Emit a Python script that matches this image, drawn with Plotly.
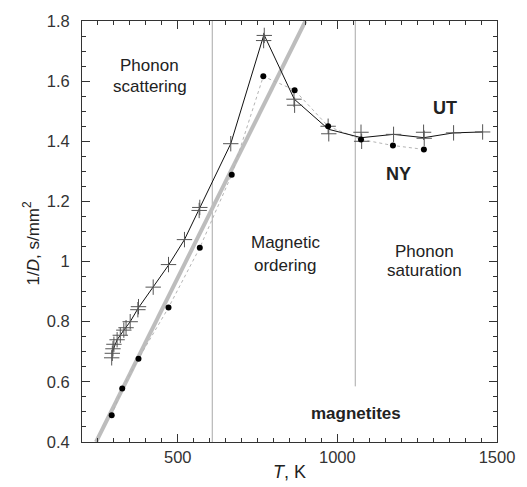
import plotly.graph_objects as go

# ---- data ----
ut_T = [293, 295, 297, 300, 310, 320, 331, 338, 351, 375, 377, 423, 471, 521, 567, 569,
        666, 769, 771, 864, 866, 971, 973, 1074, 1076, 1176, 1270, 1272, 1364, 1455]
ut_y = [0.68, 0.695, 0.71, 0.725, 0.74, 0.755, 0.772, 0.78, 0.80, 0.84, 0.85, 0.915, 0.99,
        1.073, 1.17, 1.18, 1.392, 1.735, 1.752, 1.54, 1.52, 1.45, 1.425, 1.43, 1.40,
        1.423, 1.43, 1.41, 1.428, 1.431]

ut_line_T = [295, 310, 331, 351, 376, 423, 471, 521, 568, 666, 770, 865, 972, 1075,
             1176, 1271, 1364, 1455]
ut_line_y = [0.70, 0.74, 0.772, 0.80, 0.845, 0.915, 0.988, 1.073, 1.175, 1.392, 1.755,
             1.54, 1.44, 1.412, 1.423, 1.412, 1.428, 1.431]

ny_T = [293, 326, 377, 471, 569, 669, 768, 866, 971, 1074, 1174, 1271]
ny_y = [0.489, 0.578, 0.677, 0.847, 1.046, 1.289, 1.616, 1.57, 1.45, 1.406, 1.386, 1.373]

fit_T = [244, 900]
fit_y = [0.4, 1.8]

boundary_T = [608, 1056]
boundary_bottom = [0.4, 0.585]
boundary_top = [1.8, 1.8]

y_ticks = [0.4, 0.6, 0.8, 1.0, 1.2, 1.4, 1.6, 1.8]
y_ticktext = ["0.4", "0.6", "0.8", "1", "1.2", "1.4", "1.6", "1.8"]
x_ticks = [500, 1000, 1500]

region_labels = ["Phonon", "scattering", "Magnetic", "ordering", "Phonon", "saturation"]
region_T = [412, 412, 837, 837, 1273, 1273]
region_y = [1.653, 1.583, 1.064, 0.988, 1.032, 0.969]

sample_labels = ["<b>UT</b>", "<b>NY</b>"]
sample_T = [1338, 1191]
sample_y = [1.51, 1.29]

fig = go.Figure()

for t, b, tp in zip(boundary_T, boundary_bottom, boundary_top):
    fig.add_trace(go.Scatter(x=[t, t], y=[b, tp], mode="lines",
                             line=dict(color="#a8a8a8", width=1), hoverinfo="skip"))

fig.add_trace(go.Scatter(x=fit_T, y=fit_y, mode="lines",
                         line=dict(color="#bdbdbd", width=4), hoverinfo="skip"))

fig.add_trace(go.Scatter(x=ny_T, y=ny_y, mode="lines",
                         line=dict(color="#b4b4b4", width=1, dash="dot")))

fig.add_trace(go.Scatter(x=ut_line_T, y=ut_line_y, mode="lines",
                         line=dict(color="#111111", width=1)))

fig.add_trace(go.Scatter(x=ut_T, y=ut_y, mode="markers",
                         marker=dict(symbol="cross-thin", size=11,
                                     line=dict(color="#555555", width=1))))

fig.add_trace(go.Scatter(x=ny_T, y=ny_y, mode="markers",
                         marker=dict(symbol="circle", size=6, color="#000000")))

font_main = "Liberation Sans, Arial, sans-serif"

def label(x, y, text, size=17):
    fig.add_annotation(x=x, y=y, xref="x", yref="y", text=text, showarrow=False,
                       font=dict(family=font_main, size=size, color="#222222"),
                       xanchor="center", yanchor="middle")

for t, x, y in zip(region_labels, region_T, region_y):
    label(x, y, t, 17)
for t, x, y in zip(sample_labels, sample_T, sample_y):
    label(x, y, t, 18)
label(1058, 0.496, "<b>magnetites</b>", 17)

fig.add_annotation(x=0, y=0.5, xref="paper", yref="paper",
                   text="1/<i>D</i>, s/mm<sup>2</sup>", textangle=-90, showarrow=False,
                   xshift=-64, yshift=-12,
                   font=dict(family=font_main, size=17, color="#222222"))
fig.add_annotation(x=0.5, y=0, xref="paper", yref="paper",
                   text="<i>T</i>, K", showarrow=False, yanchor="top", yshift=-18,
                   font=dict(family=font_main, size=18, color="#222222"))

axis_common = dict(showgrid=False, zeroline=False, showline=True, linecolor="#333333",
                   linewidth=1, mirror="ticks", ticks="inside", tickcolor="#333333",
                   ticklen=8, tickwidth=1,
                   tickfont=dict(family=font_main, size=16.5, color="#333333"))

fig.update_layout(
    width=527, height=487,
    margin=dict(l=82, r=21, t=20, b=45),
    paper_bgcolor="white", plot_bgcolor="white",
    showlegend=False,
    xaxis=dict(range=[200, 1500], tickmode="array", tickvals=x_ticks,
               minor=dict(tick0=0, dtick=50, ticks="inside", ticklen=4,
                          tickcolor="#333333"),
               **axis_common),
    yaxis=dict(range=[0.4, 1.8], tickmode="array", tickvals=y_ticks,
               ticktext=y_ticktext, ticklabelstandoff=8,
               minor=dict(tick0=0, dtick=0.05, ticks="inside", ticklen=4,
                          tickcolor="#333333"),
               **axis_common),
)

fig.write_html("out.html", config={"displayModeBar": False},
               post_script="document.body.style.margin='0px';document.body.style.overflow='hidden';")
